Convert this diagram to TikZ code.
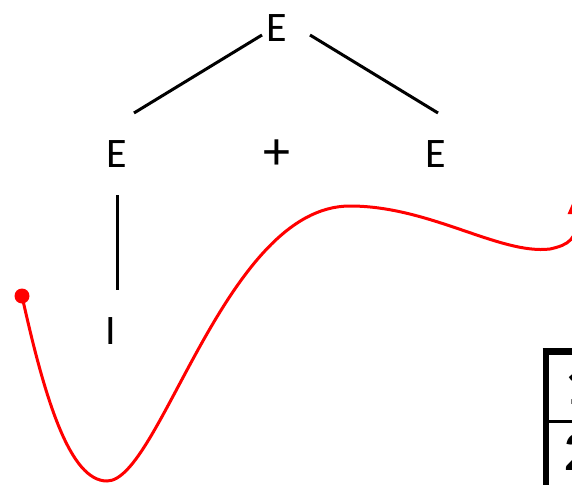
\documentclass[tikz,border=0pt]{standalone}
\usepackage{fontspec}
\setmainfont{Carlito}
\usetikzlibrary{arrows.meta}
\begin{document}
\begin{tikzpicture}[x=1pt,y=-1pt,
  lbl/.style={font=\fontsize{42}{50}\selectfont, inner sep=0pt, anchor=base},
  cell/.style={font=\fontsize{56}{64}\selectfont\bfseries, inner sep=0pt, anchor=base west},
  branch/.style={line width=3pt},
  redcurve/.style={draw=red, line width=3pt, -{Triangle[length=24pt,width=20pt]}},
  tablerule/.style={line width=6pt}]
\useasboundingbox (0,0) rectangle (572,484);
\clip (0,0) rectangle (572,484);
% tree labels
\node[lbl] (top) at (276.5,42) {E};
\node[lbl] (left) at (116.5,167) {E};
\node[inner sep=0pt, font=\fontsize{54}{60}\selectfont] (plus) at (277,155) {+};
\node[lbl] (right) at (436,167) {E};
\node[lbl] (leaf) at (110.5,344) {I};
% connector end points
\coordinate (tl) at (262,35);
\coordinate (lt) at (134,113);
\coordinate (tr) at (310,35);
\coordinate (rt) at (438,113);
\coordinate (lb) at (117.5,195);
\coordinate (ib) at (117.5,290);
\draw[branch] (tl) -- (lt);
\draw[branch] (tr) -- (rt);
\draw[branch] (lb) -- (ib);
% red curve
\coordinate (start) at (22,296);
\coordinate (b1) at (107,481);
\coordinate (peak) at (350,206);
\coordinate (b2) at (550,249);
\coordinate (tip) at (578,190);
\fill[red] (start) circle (7.5);
\draw[redcurve] (start) .. controls (45,400) and (70,481) .. (b1)
  .. controls (160,481) and (225,206) .. (peak)
  .. controls (430,206) and (500,255) .. (b2)
  .. controls (568,245) and (578,240) .. (tip);
% table
\draw[line width=6pt] (545.5,348) -- (545.5,490);
\draw[line width=7pt] (542.5,351.5) -- (580,351.5);
\draw[line width=3pt] (548,421.5) -- (580,421.5);
\node[cell] (c1) at (565,404) {1};
\node[cell] (c2) at (564,470) {2};
\end{tikzpicture}
\end{document}
